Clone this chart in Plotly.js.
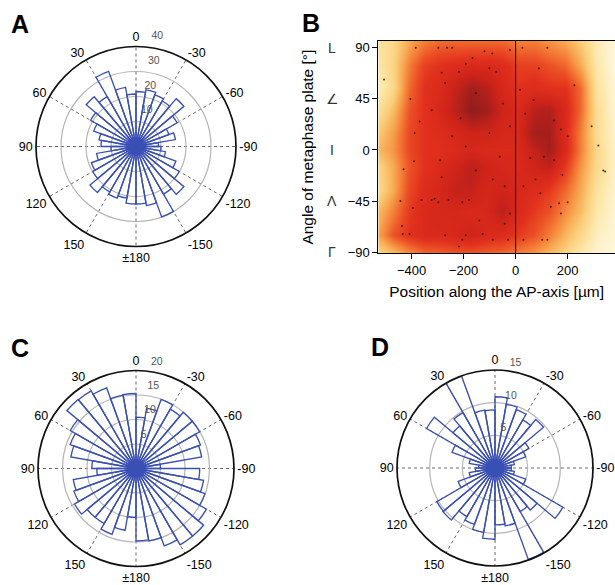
<!DOCTYPE html>
<html><head><meta charset="utf-8">
<script src="https://cdn.plot.ly/plotly-3.0.1.min.js"></script>
<style>html,body{margin:0;padding:0;background:#fff}#chart{width:615px;height:585px}</style>
</head><body><div id="chart"></div>
<script>
// ---- rose histogram data (10 degree bins, angle measured counter-clockwise from top) ----
const binCenters = [5,15,25,35,45,55,65,75,85,95,105,115,125,135,145,155,165,175,185,195,205,215,225,235,245,255,265,275,285,295,305,315,325,335,345,355];
const roseA = [21,24,32,23,26,21,18,15,14,10,16,19,20,24,21,22,21,23,23,24,30,22,25,20,17,12,10,9,16,14,19,25,21,22,23,22];
const roseC = [15.3,15.2,17.5,18.3,18.4,15.5,14.3,13.5,9,8,13,13.5,14.5,13,13,14.3,12.8,10,14.8,15,16.8,18,18,16.6,15,14,13,5,13.6,14,15,15,14,15,12.5,10.5];
const roseD = [8.9,9.0,15.0,9.8,8.4,12.1,7,4,2.5,3,4,6,10.3,10.4,8.6,9.2,10,10.9,8.7,9,14.9,7.7,8.4,12,5,3,2.5,2.5,3,5,6,9.7,8.5,9.5,9.9,10.9];
const angTickVals = [0,30,60,90,120,150,180,210,240,270,300,330];
const angTickText = ['0','30','60','90','120','150','±180','-150','-120','-90','-60','-30'];
const radTicksA = [10,20,30,40];
const radTicksC = [5,10,15,20];
const radTicksD = [5,10,15];

// ---- panel B: density map ----
const heatX = [-530,-470,-410,-350,-290,-230,-170,-110,-50,10,70,130,190,250,310,380];
const heatY = [-91,-75,-55,-35,-15,0,15,35,55,75,96];
const heatZ = [
  [0.20,0.30,0.42,0.50,0.52,0.55,0.55,0.52,0.50,0.45,0.40,0.32,0.22,0.12,0.05,0.02],
  [0.35,0.55,0.65,0.70,0.70,0.72,0.75,0.70,0.68,0.62,0.55,0.45,0.32,0.20,0.08,0.03],
  [0.30,0.45,0.62,0.70,0.72,0.72,0.70,0.72,0.80,0.70,0.62,0.55,0.42,0.30,0.12,0.04],
  [0.18,0.35,0.58,0.68,0.72,0.78,0.78,0.72,0.75,0.72,0.68,0.62,0.50,0.35,0.15,0.05],
  [0.20,0.35,0.55,0.65,0.70,0.75,0.80,0.75,0.72,0.70,0.75,0.78,0.62,0.40,0.20,0.06],
  [0.30,0.40,0.58,0.65,0.66,0.70,0.72,0.70,0.70,0.70,0.78,0.85,0.70,0.45,0.20,0.06],
  [0.25,0.38,0.58,0.65,0.68,0.72,0.75,0.75,0.72,0.72,0.85,0.85,0.68,0.45,0.18,0.05],
  [0.15,0.30,0.55,0.65,0.72,0.80,0.90,0.85,0.75,0.70,0.80,0.82,0.70,0.50,0.18,0.04],
  [0.08,0.20,0.50,0.65,0.70,0.78,0.85,0.80,0.72,0.65,0.68,0.65,0.65,0.50,0.15,0.03],
  [0.12,0.22,0.45,0.60,0.65,0.68,0.70,0.70,0.68,0.60,0.60,0.55,0.50,0.35,0.12,0.02],
  [0.15,0.20,0.35,0.45,0.50,0.50,0.50,0.50,0.50,0.45,0.45,0.40,0.35,0.25,0.10,0.02]
];
const dotX = [-506,-384,-297,-264,-244,-120,-90,26,122,-405,-323,-369,-388,-391,-431,-443,-362,-323,-312,-395,-437,-434,-408,-297,-258,-205,-179,-271,-205,-218,-192,-140,-88,-29,-22,30,102,122,174,167,200,318,337,344,292,89,226,17,37,69,148,174,200,56,108,148,180,76,30,-166,-192,-218,-284,-271,-101,-75,-153,-212,-244,-192,-290,-284,-153,-88,-42,-61,-101,-22,-48,-22,95,135,-42,-127];
const dotY = [62,90,90,90,90,87,85,90,90,45,35,25,15,-10,-17,-45,-44,-44,-43,-51,-67,-74,-74,-46,-44,-46,-44,-75,-79,-85,-75,-62,-79,-79,-56,-79,-79,-79,-56,-47,-46,4,-18,-19,21,72,57,53,32,44,26,18,12,-7,-6,-9,-22,-26,-32,81,76,69,68,59,72,69,50,28,12,3,-9,-24,-18,-26,-32,-6,15,21,41,88,-38,-50,-65,-74];
const bXTicks = [-400,-200,0,200];
const bYTicks = [-90,-45,0,45,90];
const bYGlyphs = ['Γ','Λ','I','∠','L'];

const FONT = 'Arial, "Liberation Sans", Helvetica, sans-serif';
const BLUE = '#3a4fb4';
const W = 615, H = 585;
const px = v => v / W, py = v => 1 - v / H;

// polar geometry in pixels: centre x, centre y, radius
const geoA = [136, 146.5, 100], geoC = [136, 468.5, 98], geoD = [495, 468, 98];

function dom(g, k) {
  const r = g[2] * k;
  return {x: [px(g[0] - r), px(g[0] + r)], y: [py(g[1] + r), py(g[1] - r)]};
}

function polarCfg(g, rmax, rticks) {
  return {
    domain: dom(g, 1),
    bgcolor: 'rgba(0,0,0,0)',
    angularaxis: {
      rotation: 90, direction: 'counterclockwise',
      tickmode: 'array', tickvals: angTickVals, ticktext: angTickText,
      showline: true, linecolor: '#111', linewidth: 1.7,
      showgrid: true, gridcolor: '#666', griddash: 'dot', gridwidth: 1,
      ticks: '', tickfont: {size: 12.5, color: '#000', family: FONT}
    },
    radialaxis: {
      range: [0, rmax], tickmode: 'array', tickvals: rticks,
      showticklabels: false, showline: false, ticks: '',
      showgrid: true, gridcolor: '#b5b5b5', gridwidth: 1.2
    }
  };
}
// invisible helper polar with identical centre and scale, extended outward, used for radial tick labels
function helperCfg(g, rmax, k) {
  return {
    domain: dom(g, k), bgcolor: 'rgba(0,0,0,0)',
    angularaxis: {visible: false, rotation: 90, direction: 'counterclockwise'},
    radialaxis: {visible: false, range: [0, rmax * k]}
  };
}

function roseTraces(sub, helper, vals, rticks, off) {
  return [
    {type: 'barpolar', subplot: sub, r: vals, theta: binCenters, width: 10,
     marker: {color: 'rgba(0,0,0,0)', line: {color: BLUE, width: 1.35}},
     hoverinfo: 'skip', showlegend: false},
    {type: 'scatterpolar', subplot: sub, mode: 'markers', r: [0], theta: [0],
     marker: {size: 18, color: BLUE}, hoverinfo: 'skip', showlegend: false},
    {type: 'scatterpolar', subplot: helper, mode: 'text', cliponaxis: false,
     r: rticks.map(v => v + off), theta: rticks.map(() => 352),
     text: rticks.map(String), textposition: 'middle right',
     textfont: {size: 10.5, color: '#555', family: FONT},
     hoverinfo: 'skip', showlegend: false}
  ];
}

const traces = [].concat(
  roseTraces('polar', 'polar4', roseA, radTicksA, 4.4),
  roseTraces('polar2', 'polar5', roseC, radTicksC, 1.9),
  roseTraces('polar3', 'polar6', roseD, radTicksD, 1.1),
  [
    {type: 'heatmap', x: heatX, y: heatY, z: heatZ, zsmooth: 'best', zmin: 0, zmax: 1,
     showscale: false, hoverinfo: 'skip',
     colorscale: [[0,'#fffbe6'],[0.12,'#fde8aa'],[0.25,'#fbcd78'],[0.35,'#f8aa55'],[0.45,'#f47f38'],[0.55,'#ec5226'],[0.65,'#e1301d'],[0.75,'#d0241a'],[0.85,'#a41f1c'],[0.92,'#861d1c'],[1,'#661a1a']]},
    {type: 'scatter', mode: 'markers', x: dotX, y: dotY,
     marker: {size: 2, color: '#3a0d0d', opacity: 0.85}, hoverinfo: 'skip', showlegend: false}
  ]
);

const annotations = [
  {text: '<b>A</b>', x: px(9), y: py(24), xanchor: 'left', yanchor: 'middle'},
  {text: '<b>B</b>', x: px(300), y: py(23), xanchor: 'left', yanchor: 'middle'},
  {text: '<b>C</b>', x: px(9), y: py(348), xanchor: 'left', yanchor: 'middle'},
  {text: '<b>D</b>', x: px(369), y: py(347), xanchor: 'left', yanchor: 'middle'}
].map(a => Object.assign(a, {xref: 'paper', yref: 'paper', showarrow: false, font: {size: 25, color: '#000', family: FONT}}));

bYTicks.forEach((v, i) => annotations.push({
  text: bYGlyphs[i], xref: 'paper', yref: 'y', x: px(332), y: v, xanchor: 'center', yanchor: 'middle',
  showarrow: false, font: {size: 14, color: '#333', family: FONT}
}));

const layout = {
  width: W, height: H,
  margin: {l: 0, r: 0, t: 0, b: 0},
  paper_bgcolor: '#fff', plot_bgcolor: '#fff',
  font: {family: FONT, color: '#000'},
  showlegend: false,
  polar: polarCfg(geoA, 40, radTicksA),
  polar2: polarCfg(geoC, 20, radTicksC),
  polar3: polarCfg(geoD, 15, radTicksD),
  polar4: helperCfg(geoA, 40, 1.15),
  polar5: helperCfg(geoC, 20, 1.1),
  polar6: helperCfg(geoD, 15, 1.1),
  xaxis: {
    domain: [px(378.3), 1], range: [-528, 382], tickvals: bXTicks,
    ticks: 'outside', ticklen: 5, tickcolor: '#000', showline: true, mirror: true,
    linecolor: '#000', linewidth: 1, showgrid: false, zeroline: false,
    tickfont: {size: 13, color: '#000'},
    title: {text: 'Position along the AP-axis [µm]', font: {size: 15.5, color: '#000'}, standoff: 9}
  },
  yaxis: {
    domain: [py(253.3), py(41)], range: [-91, 96], tickvals: bYTicks,
    ticks: 'outside', ticklen: 5, tickcolor: '#000', showline: true, mirror: true,
    linecolor: '#000', linewidth: 1, showgrid: false, zeroline: false,
    tickfont: {size: 13, color: '#000'},
    title: {text: 'Angle of metaphase plate [°]', font: {size: 15.5, color: '#000'}, standoff: 30}
  },
  shapes: [{type: 'line', xref: 'x', yref: 'y domain', x0: 0, x1: 0, y0: 0, y1: 1, line: {color: '#111', width: 1}}],
  annotations: annotations
};

Plotly.newPlot('chart', traces, layout, {staticPlot: true, displayModeBar: false});
</script></body></html>
